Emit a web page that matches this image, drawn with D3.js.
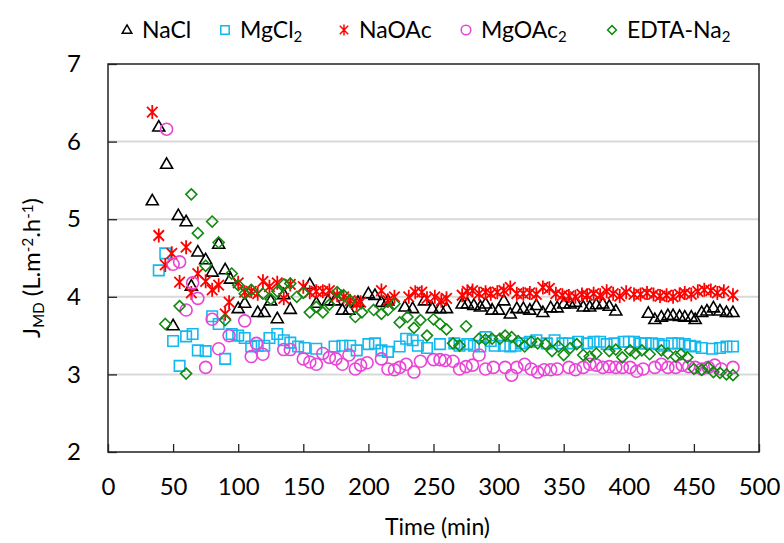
<!DOCTYPE html>
<html>
<head>
<meta charset="utf-8">
<script src="https://cdn.jsdelivr.net/npm/d3@7"></script>
<style>
  body { margin: 0; background: #fff; }
  text { font-family: Lato, "Liberation Sans", sans-serif; font-weight: 400; fill: #000; }
</style>
</head>
<body>
<script>
// flux vs time: [time (min), J (L.m-2.h-1)]
const nacl = [[34,5.24],[39,6.19],[45,5.71],[50,3.63],[54,5.05],[60,4.97],[64,4.14],[69,4.58],[75,4.48],[80,4.32],[85,4.68],[90,4.35],[94,4.23],[100,3.85],[105,3.92],[115,3.80],[120,3.80],[125,3.95],[130,3.72],[135,4.03],[140,3.84],[155,4.16],[160,3.92],[169,3.95],[174,3.95],[180,3.83],[185,3.83],[192,3.93],[200,4.04],[205,4.02],[210,3.93],[215,3.95],[228,3.87],[234,3.85],[243,3.95],[249,3.85],[255,3.85],[260,3.85],[272,3.91],[276,3.91],[281,3.89],[286,3.87],[290,3.91],[295,3.83],[300,3.83],[304,3.95],[309,3.78],[314,3.85],[319,3.85],[324,3.83],[329,3.89],[334,3.80],[340,3.86],[345,3.86],[350,3.91],[355,3.91],[359,3.93],[365,3.87],[370,3.87],[375,3.90],[380,3.91],[385,3.88],[390,3.82],[415,3.79],[420,3.71],[425,3.74],[430,3.76],[434,3.76],[439,3.75],[443,3.74],[448,3.74],[451,3.71],[456,3.80],[460,3.82],[465,3.86],[470,3.82],[475,3.80],[480,3.80]];
const mgcl2 = [[39,4.34],[44,4.56],[50,3.43],[55,3.11],[60,3.49],[65,3.52],[69,3.31],[75,3.30],[80,3.75],[85,3.65],[90,3.20],[95,3.52],[100,3.50],[105,3.47],[110,3.36],[115,3.37],[120,3.37],[124,3.47],[130,3.52],[135,3.44],[140,3.41],[146,3.36],[151,3.34],[160,3.33],[174,3.36],[180,3.37],[186,3.37],[191,3.31],[200,3.39],[205,3.40],[210,3.31],[215,3.29],[224,3.36],[229,3.46],[234,3.44],[238,3.37],[245,3.34],[255,3.39],[266,3.40],[270,3.37],[276,3.39],[281,3.37],[286,3.36],[290,3.48],[294,3.43],[297,3.37],[304,3.37],[309,3.36],[313,3.37],[318,3.40],[324,3.42],[329,3.44],[337,3.40],[343,3.44],[349,3.40],[354,3.40],[361,3.42],[368,3.40],[373,3.42],[378,3.42],[383,3.39],[389,3.40],[396,3.42],[400,3.42],[404,3.42],[409,3.40],[413,3.40],[418,3.40],[423,3.39],[427,3.37],[433,3.40],[438,3.40],[443,3.39],[447,3.37],[451,3.36],[456,3.34],[464,3.33],[470,3.34],[475,3.36],[480,3.36]];
const naoac = [[34,6.38],[39,4.79],[44,4.41],[49,4.56],[55,4.19],[60,4.64],[64,4.05],[69,4.30],[75,4.20],[80,4.09],[85,4.15],[90,3.78],[93,3.93],[100,4.18],[105,4.06],[110,4.07],[115,4.04],[119,4.20],[124,4.13],[130,4.18],[135,3.98],[140,4.16],[150,4.13],[155,4.06],[160,4.07],[165,4.07],[170,4.08],[176,4.02],[181,4.00],[186,3.95],[191,3.91],[194,3.93],[210,4.08],[215,3.95],[220,4.00],[231,4.00],[236,4.06],[241,4.06],[245,3.98],[251,4.00],[256,3.95],[260,3.98],[272,4.02],[276,4.07],[280,4.08],[285,4.04],[290,4.06],[294,4.04],[299,4.06],[304,4.08],[309,4.12],[314,4.04],[319,4.04],[324,4.05],[329,4.03],[334,4.12],[339,4.11],[344,4.04],[349,4.02],[354,4.01],[359,4.00],[364,4.03],[368,4.02],[373,4.04],[378,4.02],[383,4.07],[388,4.04],[393,4.01],[398,4.06],[404,4.03],[409,4.03],[414,4.05],[419,4.03],[424,4.01],[429,4.02],[434,4.00],[439,4.03],[443,4.05],[448,4.03],[453,4.07],[458,4.09],[463,4.08],[468,4.05],[473,4.07],[480,4.02]];
const mgoac2 = [[45,6.16],[50,4.42],[55,4.45],[60,3.83],[65,4.18],[69,3.98],[75,3.09],[80,3.71],[85,3.33],[93,3.50],[105,3.69],[110,3.23],[114,3.40],[119,3.26],[135,3.32],[140,3.32],[150,3.20],[155,3.16],[160,3.13],[165,3.27],[170,3.22],[175,3.20],[180,3.13],[185,3.25],[190,3.07],[194,3.12],[199,3.15],[210,3.20],[215,3.07],[220,3.06],[224,3.09],[229,3.13],[235,3.03],[240,3.17],[250,3.19],[255,3.19],[259,3.18],[265,3.17],[270,3.07],[275,3.10],[280,3.12],[285,3.25],[290,3.07],[296,3.09],[305,3.09],[310,2.99],[314,3.09],[320,3.13],[325,3.07],[330,3.03],[335,3.06],[340,3.06],[345,3.07],[354,3.09],[359,3.06],[365,3.09],[370,3.13],[375,3.12],[380,3.09],[385,3.10],[390,3.09],[395,3.09],[401,3.09],[406,3.04],[411,3.07],[420,3.09],[425,3.13],[430,3.09],[436,3.09],[441,3.12],[446,3.10],[451,3.09],[456,3.07],[461,3.09],[466,3.12],[471,3.07],[480,3.09]];
const edta = [[44,3.65],[55,3.88],[60,3.01],[64,5.32],[69,4.82],[75,4.40],[80,4.97],[85,4.70],[90,3.70],[95,4.30],[100,4.15],[105,4.04],[110,4.09],[119,4.04],[125,3.97],[130,4.07],[135,4.16],[140,4.17],[145,4.00],[150,4.05],[155,3.80],[160,3.87],[165,3.80],[170,3.90],[176,4.06],[181,4.02],[186,3.95],[190,3.74],[195,3.80],[204,3.83],[210,3.78],[215,3.83],[220,3.91],[224,3.67],[230,3.74],[235,3.60],[240,3.70],[245,3.50],[250,3.71],[255,3.65],[260,3.58],[265,3.40],[270,3.37],[275,3.62],[285,3.46],[290,3.45],[295,3.46],[301,3.46],[305,3.50],[310,3.48],[315,3.43],[320,3.36],[325,3.42],[330,3.40],[336,3.39],[341,3.30],[346,3.36],[350,3.25],[355,3.34],[360,3.39],[365,3.25],[370,3.23],[375,3.27],[385,3.30],[390,3.32],[395,3.22],[401,3.31],[405,3.27],[410,3.31],[416,3.26],[425,3.31],[430,3.27],[436,3.23],[440,3.26],[445,3.22],[450,3.07],[456,3.06],[461,3.09],[465,3.03],[470,3.02],[475,3.00],[480,2.99]];

const xTicks = [0, 50, 100, 150, 200, 250, 300, 350, 400, 450, 500];
const yTicks = [2, 3, 4, 5, 6, 7];

const width = 784, height = 543;
const margin = {top: 64, right: 25, bottom: 91, left: 108};

const x = d3.scaleLinear().domain([0, 500]).range([margin.left, width - margin.right]);
const y = d3.scaleLinear().domain([2, 7]).range([height - margin.bottom, margin.top]);

const svg = d3.select('body').append('svg')
  .attr('width', width)
  .attr('height', height);

// marker shapes (hollow, like excel)
const shapes = {
  triangle: (s) => { const h = s * 0.87; return `M0,${-h * 0.6}L${s / 2},${h * 0.4}L${-s / 2},${h * 0.4}Z`; },
  square: (s) => `M${-s / 2},${-s / 2}h${s}v${s}h${-s}Z`,
  star: (s) => { const r = s / 2, d = r * 0.75; return `M0,${-r}V${r}M${-d},${-d}L${d},${d}M${-d},${d}L${d},${-d}`; },
  circle: (s) => { const p = d3.path(); p.arc(0, 0, s / 2, 0, 2 * Math.PI); p.closePath(); return p.toString(); },
  diamond: (s) => { const r = s / 2; return `M0,${-r}L${r},0L0,${r}L${-r},0Z`; }
};

const series = [
  {name: 'NaCl', sub: '', data: nacl, shape: 'triangle', size: 12, color: '#000000'},
  {name: 'MgCl', sub: '2', data: mgcl2, shape: 'square', size: 10.5, color: '#12B8EE'},
  {name: 'NaOAc', sub: '', data: naoac, shape: 'star', size: 14, color: '#FF0000'},
  {name: 'MgOAc', sub: '2', data: mgoac2, shape: 'circle', size: 12, color: '#E845D6'},
  {name: 'EDTA-Na', sub: '2', data: edta, shape: 'diamond', size: 11, color: '#128A12'}
];

// gridlines
svg.append('g').selectAll('line')
  .data(yTicks.filter((d) => d > 2 && d < 7))
  .enter().append('line')
  .attr('x1', x(0)).attr('x2', x(500))
  .attr('y1', (d) => y(d)).attr('y2', (d) => y(d))
  .attr('stroke', '#d9d9d9')
  .attr('stroke-width', 2);

// points
series.forEach((s) => {
  svg.append('g').selectAll('path')
    .data(s.data)
    .enter().append('path')
    .attr('d', shapes[s.shape](s.size))
    .attr('transform', (d) => `translate(${x(d[0])},${y(d[1])})`)
    .attr('fill', 'none')
    .attr('stroke', s.color)
    .attr('stroke-width', s.shape === 'star' ? 1.8 : 1.6);
});

// frame
svg.append('rect')
  .attr('x', x(0)).attr('y', y(7))
  .attr('width', x(500) - x(0)).attr('height', y(2) - y(7))
  .attr('fill', 'none')
  .attr('stroke', '#222')
  .attr('stroke-width', 1.5);

// axes with inward ticks
const xAxis = svg.append('g')
  .attr('transform', `translate(0,${y(2)})`)
  .call(d3.axisBottom(x).tickValues(xTicks).tickSizeInner(-8).tickSizeOuter(0).tickPadding(26));
const yAxis = svg.append('g')
  .attr('transform', `translate(${x(0)},0)`)
  .call(d3.axisLeft(y).tickValues(yTicks).tickFormat(d3.format('d')).tickSizeInner(-9).tickSizeOuter(0).tickPadding(27));

[xAxis, yAxis].forEach((g) => {
  g.select('.domain').remove();
  g.selectAll('.tick line').attr('stroke', '#222').attr('stroke-width', 1.3);
  g.selectAll('.tick text')
    .style('font-family', 'Lato, sans-serif')
    .style('font-weight', '400')
    .style('font-size', '24px')
    .attr('fill', '#000');
});

// axis titles
svg.append('text')
  .attr('x', (x(0) + x(500)) / 2 + 4)
  .attr('y', 535)
  .attr('text-anchor', 'middle')
  .style('font-size', '23px')
  .text('Time (min)');

const yt = svg.append('text')
  .attr('transform', `translate(40,${268}) rotate(-90)`)
  .attr('text-anchor', 'middle')
  .style('font-size', '24px');
yt.append('tspan').text('J');
yt.append('tspan').attr('baseline-shift', '-25%').style('font-size', '15px').text('MD');
yt.append('tspan').text(' (L.m');
yt.append('tspan').attr('baseline-shift', '45%').style('font-size', '15px').text('-2');
yt.append('tspan').text('.h');
yt.append('tspan').attr('baseline-shift', '45%').style('font-size', '15px').text('-1');
yt.append('tspan').text(')');

// legend
const legendX = [127, 225, 344, 466, 612];
const legend = svg.append('g');
series.forEach((s, i) => {
  const g = legend.append('g').attr('transform', `translate(${legendX[i]},30)`);
  g.append('path')
    .attr('d', shapes[s.shape](s.size * 0.8))
    .attr('fill', 'none')
    .attr('stroke', s.color)
    .attr('stroke-width', 1.5);
  const t = g.append('text')
    .attr('x', 15)
    .attr('y', 8)
    .style('font-size', '23px');
  t.append('tspan').text(s.name);
  if (s.sub) t.append('tspan').attr('baseline-shift', '-25%').style('font-size', '15px').text(s.sub);
});
</script>
</body>
</html>
